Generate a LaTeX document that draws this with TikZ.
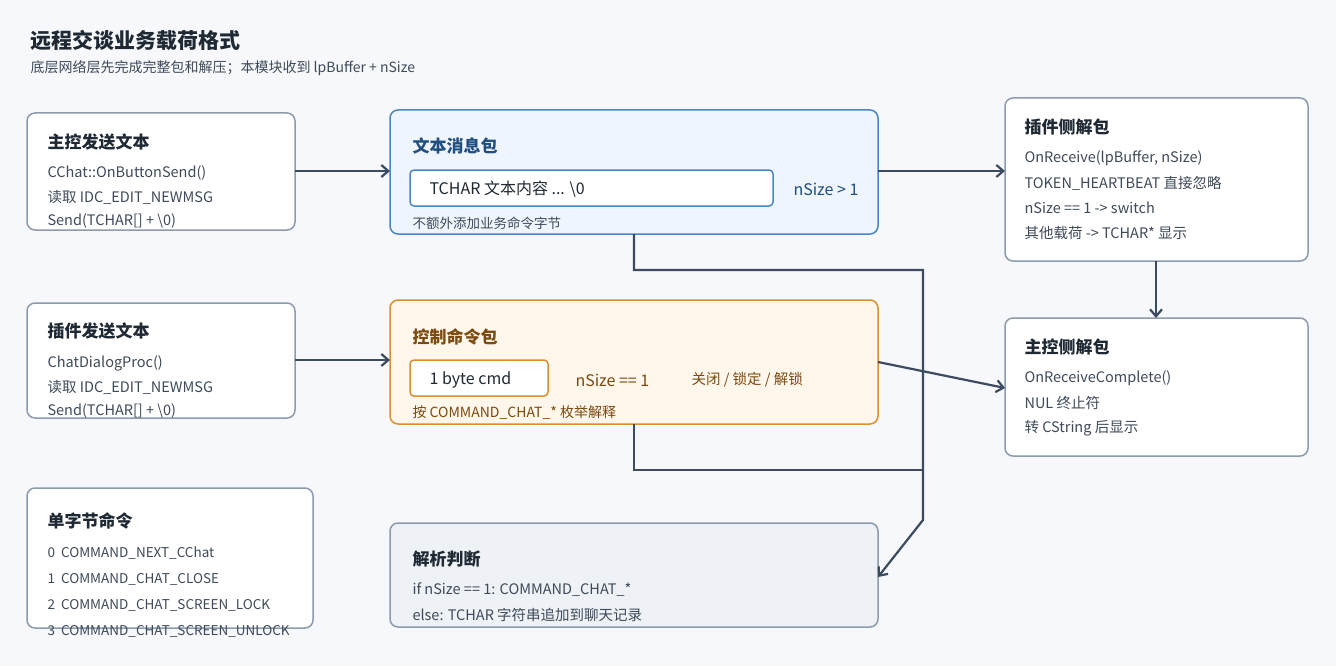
\documentclass[tikz,border=0pt]{standalone}
\usepackage{fontspec}
\setmainfont{Noto Sans CJK SC}
\usetikzlibrary{arrows.meta}
\definecolor{bgc}{HTML}{F6F8FB}
\definecolor{ink}{HTML}{1F2933}
\definecolor{sub}{HTML}{3E4A59}
\definecolor{edge}{HTML}{8C9BAE}
\definecolor{wire}{HTML}{3D4B60}
\definecolor{bluel}{HTML}{4A86C5}
\definecolor{bluef}{HTML}{EEF5FD}
\definecolor{bluet}{HTML}{1F4E7F}
\definecolor{orl}{HTML}{D9912E}
\definecolor{orf}{HTML}{FFF6EC}
\definecolor{ort}{HTML}{7A4A0F}
\definecolor{grf}{HTML}{EEF1F5}
\tikzset{
  card/.style={draw=edge,fill=white,rounded corners=8pt,line width=1.5pt},
  hd/.style={anchor=west,font=\fontsize{17}{20}\selectfont\bfseries,text=ink},
  ln/.style={anchor=west,font=\fontsize{14.5}{17}\selectfont,text=sub},
  wire/.style={draw=wire,line width=2.2pt,-{Straight Barb[length=7pt,width=12pt]}},
}
\begin{document}
\begin{tikzpicture}[x=1pt,y=-1pt]
  \fill[bgc] (0,0) rectangle (1336,666);
  \useasboundingbox (0,0) rectangle (1336,666);

  %% title
  \node[anchor=west,font=\fontsize{21}{24}\selectfont\bfseries,text=ink] (title) at (27,40) {远程交谈业务载荷格式};
  \node[anchor=west,font=\fontsize{14}{17}\selectfont,text=sub] (subtitle) at (27,68) {底层网络层先完成完整包和解压；本模块收到 lpBuffer + nSize};

  %% senders
  \draw[card] (27,113) rectangle (295,230);
  \coordinate (s1) at (295,171);
  \node[hd] at (44,142) {主控发送文本};
  \node[ln] at (44,173) {CChat::OnButtonSend()};
  \node[ln] at (44,197) {读取 IDC\_EDIT\_NEWMSG};
  \node[ln] at (44,221) {Send(TCHAR[] + \textbackslash0)};

  \draw[card] (27,303) rectangle (295,418);
  \coordinate (s2) at (295,360);
  \node[hd] at (44,331) {插件发送文本};
  \node[ln] at (44,363) {ChatDialogProc()};
  \node[ln] at (44,387) {读取 IDC\_EDIT\_NEWMSG};
  \node[ln] at (44,411) {Send(TCHAR[] + \textbackslash0)};

  %% command table
  \draw[card] (27,488) rectangle (313,628);
  \node[hd] at (44,521) {单字节命令};
  \node[ln,font=\fontsize{13.5}{16}\selectfont] at (44,553) {0\ \ COMMAND\_NEXT\_CChat};
  \node[ln,font=\fontsize{13.5}{16}\selectfont] at (44,579) {1\ \ COMMAND\_CHAT\_CLOSE};
  \node[ln,font=\fontsize{13.5}{16}\selectfont] at (44,605) {2\ \ COMMAND\_CHAT\_SCREEN\_LOCK};
  \node[ln,font=\fontsize{13.5}{16}\selectfont] at (44,631) {3\ \ COMMAND\_CHAT\_SCREEN\_UNLOCK};

  %% text packet
  \draw[card,draw=bluel,fill=bluef] (390,110) rectangle (878,234);
  \coordinate (tin) at (390,171);
  \coordinate (tout) at (878,171);
  \coordinate (tbot) at (634,234);
  \node[hd,text=bluet] at (409,146) {文本消息包};
  \draw[draw=bluel,fill=white,rounded corners=4pt,line width=1.5pt] (410,170) rectangle (773,206);
  \node[ln,font=\fontsize{16}{19}\selectfont,text=ink] at (426,189) {TCHAR 文本内容 ... \textbackslash0};
  \node[ln,font=\fontsize{16}{19}\selectfont,text=bluet] at (790,189) {nSize > 1};
  \node[ln,font=\fontsize{13.5}{16}\selectfont] at (409,223) {不额外添加业务命令字节};

  %% control packet
  \draw[card,draw=orl,fill=orf] (390,300) rectangle (878,424);
  \coordinate (cin) at (390,360);
  \coordinate (cout) at (878,362);
  \coordinate (cbot) at (634,424);
  \node[hd,text=ort] at (409,337) {控制命令包};
  \draw[draw=orl,fill=white,rounded corners=4pt,line width=1.5pt] (410,360) rectangle (548,396);
  \node[ln,font=\fontsize{16}{19}\selectfont,text=ink] at (426,380) {1 byte cmd};
  \node[ln,font=\fontsize{16}{19}\selectfont,text=ort] at (572,380) {nSize == 1};
  \node[ln,text=ort] at (688,380) {关闭 / 锁定 / 解锁};
  \node[ln,font=\fontsize{14}{17}\selectfont,text=ort] at (409,413) {按 COMMAND\_CHAT\_* 枚举解释};

  %% parse
  \draw[card,fill=grf] (390,523) rectangle (878,627);
  \coordinate (pin) at (878,577);
  \node[hd] at (409,559) {解析判断};
  \node[ln] at (409,590) {if nSize == 1: COMMAND\_CHAT\_*};
  \node[ln] at (409,615) {else: TCHAR 字符串追加到聊天记录};

  %% receivers
  \draw[card] (1005,98) rectangle (1308,261);
  \coordinate (rin) at (1005,171);
  \coordinate (rbot) at (1156,261);
  \node[hd] at (1021,127) {插件侧解包};
  \node[ln] at (1021,158) {OnReceive(lpBuffer, nSize)};
  \node[ln] at (1021,183) {TOKEN\_HEARTBEAT 直接忽略};
  \node[ln] at (1021,208) {nSize == 1 -> switch};
  \node[ln] at (1021,233) {其他载荷 -> TCHAR* 显示};

  \draw[card] (1005,318) rectangle (1308,456);
  \coordinate (min) at (1005,388);
  \coordinate (mtop) at (1156,318);
  \node[hd] at (1021,347) {主控侧解包};
  \node[ln] at (1021,378) {OnReceiveComplete()};
  \node[ln] at (1021,403) {NUL 终止符};
  \node[ln] at (1021,428) {转 CString 后显示};

  %% connectors
  \draw[wire] (s1) -- (tin);
  \draw[wire] (s2) -- (cin);
  \draw[wire] (tout) -- (rin);
  \draw[wire] (cout) -- (min);
  \draw[wire] (rbot) -- (mtop);
  \draw[wire] (tbot) -- (634,270) -- (923,270) -- (923,520) -- (pin);
  \draw[wire,-] (cbot) -- (634,470) -- (923,470);
\end{tikzpicture}
\end{document}
